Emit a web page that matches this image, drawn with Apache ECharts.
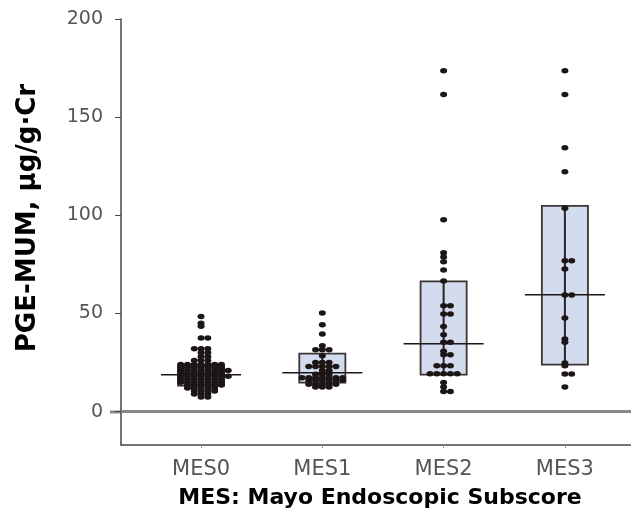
<!DOCTYPE html>
<html><head><meta charset="utf-8">
<script src="https://cdn.jsdelivr.net/npm/echarts@6/dist/echarts.min.js"></script>
<style>html,body{margin:0;padding:0;background:#fff}#c{width:631px;height:514px}</style>
</head><body><div id="c"></div>
<script>
const categories = ['MES0', 'MES1', 'MES2', 'MES3'];
const yTicks = [0, 50, 100, 150, 200];
const boxQ1 = [13.2, 14.8, 18.8, 23.9];
const boxMedian = [18.8, 19.8, 34.6, 59.5];
const boxQ3 = [23.4, 29.5, 66.3, 104.8];

const mes0 = [48.5, 45, 43.5, 37.5, 37.5, 32, 32, 32, 30, 30, 28, 28, 26, 26, 26,
  24, 24, 24, 24, 24, 24, 24,
  22.5, 22.5, 22.5, 22.5, 22.5, 22.5, 22.5,
  21, 21, 21, 21, 21, 21, 21, 21,
  19.5, 19.5, 19.5, 19.5, 19.5, 19.5, 19.5,
  18, 18, 18, 18, 18, 18, 18, 18,
  16.5, 16.5, 16.5, 16.5, 16.5, 16.5, 16.5,
  15, 15, 15, 15, 15, 15, 15,
  13.5, 13.5, 13.5, 13.5, 13.5, 13.5,
  12, 12, 12, 12, 12,
  10.5, 10.5, 10.5, 10.5,
  9, 9, 9, 7.5, 7.5];
const mes1 = [50.2, 44.3, 39.5, 33.6, 31.5, 31.5, 31.5, 28.5, 25, 25, 25,
  23, 23, 23, 23, 23, 21, 21, 19, 19, 19,
  17.3, 17.3, 17.3, 17.3, 17.3, 17.3, 17.3,
  16, 16, 16, 16, 16, 16, 14, 14, 14, 14, 14, 12.5, 12.5, 12.5];
const mes2 = [173.6, 161.6, 97.7, 80.9, 78.8, 76.3, 72.2, 66.6, 53.9, 53.9, 49.7, 49.7,
  43.4, 39.2, 35.3, 35.3, 30.7, 29, 29, 23.4, 23.4, 23.4,
  19.3, 19.3, 19.3, 19.3, 19.3, 14.9, 12.5, 10.3, 10.3];
const mes3 = [173.6, 161.6, 134.4, 122.2, 103.6, 76.8, 76.8, 72.6, 59.4, 59.4, 47.7,
  37, 35.3, 24.8, 23.4, 19.2, 19.2, 12.6];
const groups = [mes0, mes1, mes2, mes3];

// beeswarm-style layout: equal values spread horizontally 0, +1, -1, +2, ...
const dotStep = 0.056;
const dots = [];
groups.forEach((vals, gi) => {
  const count = {};
  vals.forEach(v => {
    const k = String(v);
    const n = count[k] || 0;
    count[k] = n + 1;
    const slot = n === 0 ? 0 : (n % 2 === 1 ? (n + 1) / 2 : -n / 2);
    dots.push([gi + slot * dotStep, v]);
  });
});

const boxData = categories.map((c, i) => [i, boxQ1[i], boxMedian[i], boxQ3[i]]);
const halfBox = 0.19, halfMed = 0.33;

const chart = echarts.init(document.getElementById('c'));
chart.setOption({
  animation: false,
  grid: { left: 121, right: 0, top: 19, bottom: 69 },
  xAxis: {
    type: 'value', min: -0.66, max: 3.545,
    splitLine: { show: false },
    axisLine: { show: true, onZero: false, lineStyle: { color: '#4e4545', width: 1.5 } },
    axisTick: { show: true, customValues: [0, 1, 2, 3], length: 3, lineStyle: { color: '#999' } },
    axisLabel: {
      customValues: [0, 1, 2, 3],
      formatter: v => categories[Math.round(v)],
      fontFamily: 'DejaVu Sans', fontSize: 21, color: '#555', margin: 14
    }
  },
  yAxis: {
    type: 'value', min: -17, max: 200,
    splitLine: { show: false },
    axisLine: { show: true, onZero: false, lineStyle: { color: '#4e4545', width: 1.5 } },
    axisTick: { show: true, customValues: yTicks, length: 6, lineStyle: { color: '#4e4545' } },
    axisLabel: {
      customValues: yTicks,
      fontFamily: 'DejaVu Sans', fontSize: 19, color: '#555', margin: 18
    }
  },
  graphic: [
    { type: 'text', x: 28, y: 218, rotation: Math.PI / 2,
      style: { text: 'PGE-MUM, μg/g·Cr', fontFamily: 'DejaVu Sans', fontWeight: 'bold', fontSize: 26,
        fill: '#000', align: 'center', verticalAlign: 'middle' } },
    { type: 'text', x: 380, y: 498,
      style: { text: 'MES: Mayo Endoscopic Subscore', fontFamily: 'DejaVu Sans', fontWeight: 'bold', fontSize: 22,
        fill: '#000', align: 'center', verticalAlign: 'middle' } },
    { type: 'line', shape: { x1: 110, y1: 412, x2: 122, y2: 412 },
      style: { stroke: '#888', lineWidth: 3 } }
  ],
  series: [
    {
      type: 'custom', z: 1, silent: true,
      data: boxData,
      renderItem: (params, api) => {
        const x = api.value(0), q1 = api.value(1), q3 = api.value(3);
        const a = api.coord([x - halfBox, q3]);
        const b = api.coord([x + halfBox, q1]);
        const t = api.coord([x, q3]), btm = api.coord([x, q1]);
        return { type: 'group', children: [
          { type: 'rect', shape: { x: a[0], y: a[1], width: b[0] - a[0], height: b[1] - a[1] },
            style: { fill: '#d3dbee', stroke: '#3d3535', lineWidth: 1.8 } },
          { type: 'line', shape: { x1: t[0], y1: t[1], x2: btm[0], y2: btm[1] },
            style: { stroke: '#2a2222', lineWidth: 2 } }
        ] };
      }
    },
    {
      type: 'scatter', z: 2, silent: true,
      data: dots,
      symbol: 'circle', symbolSize: [7, 5.5],
      itemStyle: { color: '#1c1616', opacity: 1 },
      markLine: {
        silent: true, symbol: ['none', 'none'], label: { show: false },
        lineStyle: { color: '#888', width: 3, type: 'solid' },
        data: [{ yAxis: 0 }]
      }
    },
    {
      type: 'custom', z: 3, silent: true,
      data: boxData,
      renderItem: (params, api) => {
        const x = api.value(0), m = api.value(2);
        const l = api.coord([x - halfMed, m]), r = api.coord([x + halfMed, m]);
        return { type: 'line', shape: { x1: l[0], y1: l[1], x2: r[0], y2: r[1] },
          style: { stroke: '#1c1616', lineWidth: 1.5 } };
      }
    }
  ]
});
</script>
</body></html>
